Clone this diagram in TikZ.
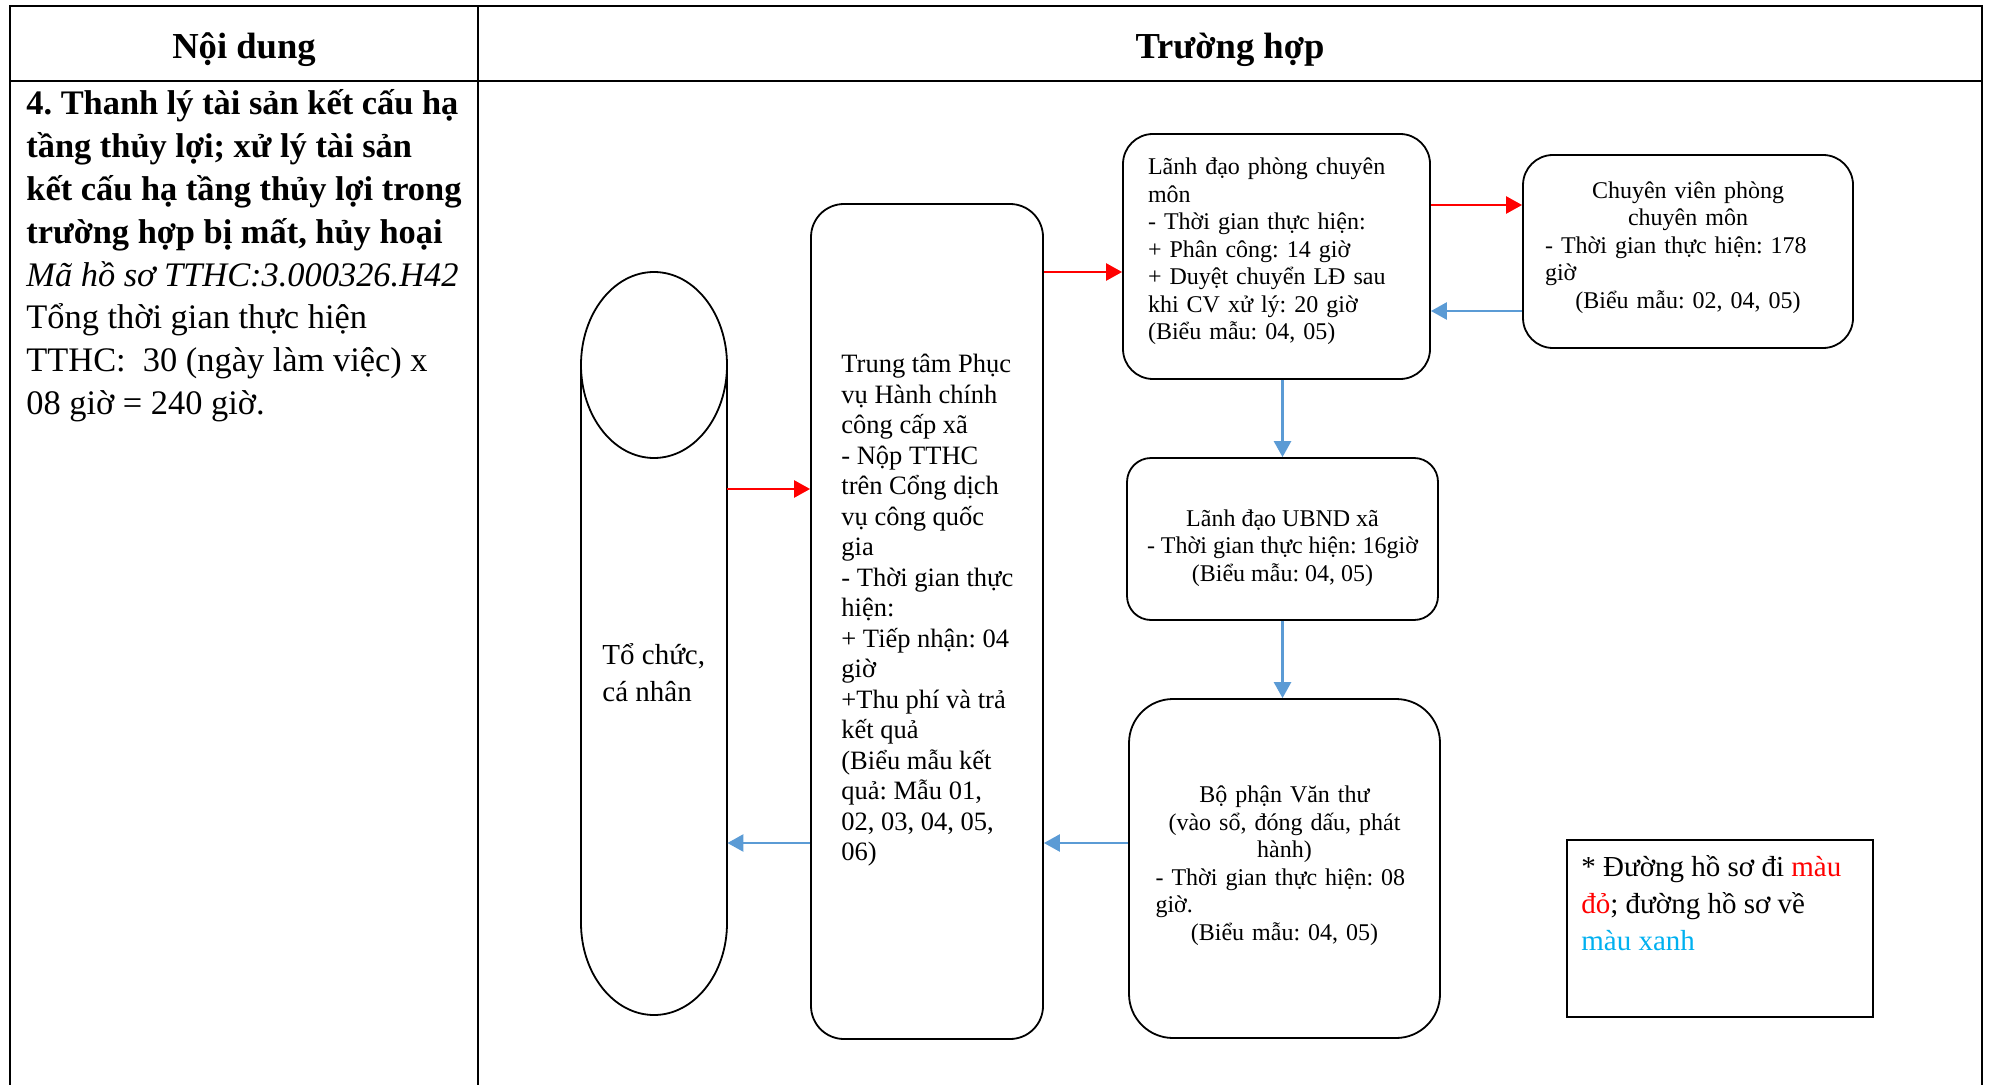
\documentclass[tikz,border=0pt]{standalone}
\usepackage{fontspec}
\setmainfont{Liberation Serif}
\usepackage{
tikz,
xcolor,
}
\usetikzlibrary{arrows.meta,positioning}
\definecolor{flowRed}{RGB}{255,0,0}
\definecolor{flowBlue}{RGB}{91,155,213}
\definecolor{noteCyan}{RGB}{0,176,240}
\newcommand{\hdfont}{\fontsize{18.3}{22}\selectfont\bfseries}
\newcommand{\colfont}{\fontsize{17.2}{21.4}\selectfont}
\newcommand{\bigboxfont}{\fontsize{13.25}{15.25}\selectfont}
\newcommand{\boxfont}{\fontsize{12}{13.75}\selectfont}
\newcommand{\notefont}{\fontsize{14.5}{18.4}\selectfont}
\frenchspacing

\begin{document}
\begin{tikzpicture}[x=0.5pt,y=-0.5pt,
    stepbox/.style={draw,line width=0.9pt,rounded corners=#1,inner sep=0pt},
    stepbox/.default=15pt,
    steptext/.style={font=\boxfont,inner sep=0pt},
    goarrow/.style={draw=flowRed,line width=1.25pt,-{Triangle[length=8pt,width=8.5pt]}},
    backarrow/.style={draw=flowBlue,line width=1.3pt,-{Triangle[length=8pt,width=8.5pt]}},
    plain/.style={inner sep=0pt,align=left,anchor=north west}]

    \useasboundingbox (0,0) rectangle (1989,1085);

    % table
    \draw[line width=1.25pt] (10,1085) -- (10,6) -- (1982,6) -- (1982,1085);
    \draw[line width=1.25pt] (10,81) -- (1982,81);
    \draw[line width=1.25pt] (478,6) -- (478,1085);

    \node[font=\hdfont,anchor=base] (hdcontent) at (244,59) {Nội dung};
    \node[font=\hdfont,anchor=base] (hdcase) at (1230,59) {Trường hợp};

    \node[plain,font=\colfont] (procname) at (26,89.5)
      {\textbf{4. Thanh lý tài sản kết cấu hạ}\\
       \textbf{tầng thủy lợi; xử lý tài sản}\\
       \textbf{kết cấu hạ tầng thủy lợi trong}\\
       \textbf{trường hợp bị mất, hủy hoại}\\
       \textit{Mã hồ sơ TTHC:3.000326.H42}\\
       Tổng thời gian thực hiện\\
       TTHC: \ 30 (ngày làm việc) x\\
       08 giờ = 240 giờ.};

    % applicant
    \node[minimum width=73pt,minimum height=371.5pt,inner sep=0pt] (org) at (654,643.5) {};
    \draw[line width=0.9pt] (654,365) ellipse [x radius=73, y radius=93];
    \draw[line width=0.9pt] (581,365) -- (581,923)
      arc[start angle=180,end angle=0,x radius=73,y radius=92] -- (727,365);
    \node[plain,font=\notefont] (orgtext) at (602,643) {Tổ chức,\\cá nhân};

    % steps
    \node[stepbox=16.5pt,minimum width=116pt,minimum height=417.5pt] (ttpv) at (927,621.5) {};
    \node[plain,font=\bigboxfont] (ttpvtext) at (841,354)
      {Trung tâm Phục\\ vụ Hành chính\\ công cấp xã\\ - Nộp TTHC\\ trên Cổng dịch\\
       vụ công quốc\\ gia\\ - Thời gian thực\\ hiện:\\ + Tiếp nhận: 04\\ giờ\\
       +Thu phí và trả\\ kết quả\\ (Biểu mẫu kết\\ quả: Mẫu 01,\\ 02, 03, 04, 05,\\ 06)};

    \node[stepbox,minimum width=153.5pt,minimum height=122.5pt] (ldp) at (1276.5,256.5) {};
    \node[steptext,align=left,text width=128.5pt] (ldptext) at ([yshift=2.5pt]ldp.center)
      {Lãnh đạo phòng chuyên\\ môn\\ - Thời gian thực hiện:\\ + Phân công: 14 giờ\\
       + Duyệt chuyển LĐ sau\\ khi CV xử lý: 20 giờ\\ (Biểu mẫu: 04, 05)};

    \node[stepbox,minimum width=165pt,minimum height=96.5pt] (cvp) at (1688,251.5) {};
    \node[steptext,align=center,text width=143pt] (cvptext) at ([yshift=2pt]cvp.center)
      {Chuyên viên phòng\\ chuyên môn\\
       \makebox[\linewidth][l]{- Thời gian thực hiện: 178}\\
       \makebox[\linewidth][l]{giờ}\\ (Biểu mẫu: 02, 04, 05)};

    \node[stepbox=12pt,minimum width=155.5pt,minimum height=81pt] (ubnd) at (1282.5,539) {};
    \node[steptext,align=center] (ubndtext) at ([yshift=-4.5pt]ubnd.center)
      {Lãnh đạo UBND xã\\ - Thời gian thực hiện: 16giờ\\ (Biểu mẫu: 04, 05)};

    \node[stepbox=22pt,minimum width=155.5pt,minimum height=169.5pt] (vanthu) at (1284.5,868.5) {};
    \node[steptext,align=center,text width=129pt] (vanthutext) at ([yshift=1.5pt]vanthu.center)
      {Bộ phận Văn thư\\ (vào sổ, đóng dấu, phát\\ hành)\\
       \makebox[\linewidth][l]{- Thời gian thực hiện: 08}\\
       \makebox[\linewidth][l]{giờ.}\\ (Biểu mẫu: 04, 05)};

    % legend
    \node[draw,line width=1.1pt,minimum width=153pt,minimum height=88.5pt,inner sep=0pt] (legend) at (1720,928.5) {};
    \node[plain,font=\notefont] (legendtext) at (1581,855)
      {* Đường hồ sơ đi \textcolor{flowRed}{màu}\\
       \textcolor{flowRed}{đỏ}; đường hồ sơ về\\
       \textcolor{noteCyan}{màu xanh}};

    % flow
    \draw[goarrow] ([yshift=77.25pt]org.east) -- ([yshift=77.25pt]org.east -| ttpv.west);
    \draw[goarrow] ([yshift=-7.75pt]ldp.west -| ttpv.east) -- ([yshift=-7.75pt]ldp.west);
    \draw[goarrow] ([yshift=23.25pt]cvp.west -| ldp.east) -- ([yshift=23.25pt]cvp.west);
    \draw[backarrow] ([yshift=-29.75pt]cvp.west) -- ([yshift=-29.75pt]cvp.west -| ldp.east);
    \draw[backarrow] (ubnd.north |- ldp.south) -- (ubnd.north);
    \draw[backarrow] (ubnd.south) -- (ubnd.south |- vanthu.north);
    \draw[backarrow] ([yshift=12.75pt]vanthu.west) -- ([yshift=12.75pt]vanthu.west -| ttpv.east);
    \draw[backarrow] ([yshift=12.75pt]vanthu.west -| ttpv.west) -- ([yshift=12.75pt]vanthu.west -| org.east);

\end{tikzpicture}
\end{document}
